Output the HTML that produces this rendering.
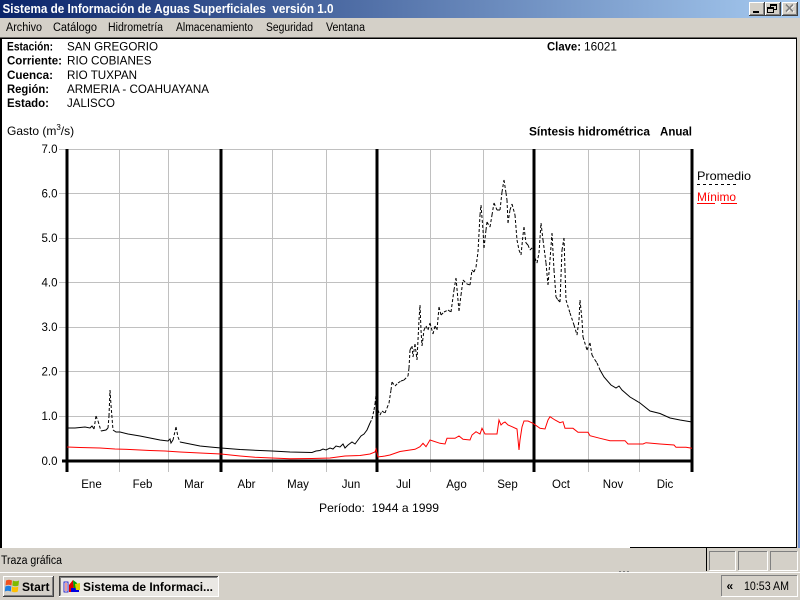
<!DOCTYPE html>
<html><head><meta charset="utf-8"><style>
html,body{margin:0;padding:0;background:#D4D0C8;width:800px;height:600px;overflow:hidden}
svg{display:block}
text{font-family:"Liberation Sans",Arial,sans-serif;white-space:pre}
</style></head><body>
<svg width="800" height="600" viewBox="0 0 800 600" xmlns="http://www.w3.org/2000/svg">
<defs><linearGradient id="tb" x1="0" x2="1" y1="0" y2="0"><stop offset="0" stop-color="#0A246A"/><stop offset="1" stop-color="#A6CAF0"/></linearGradient></defs>
<rect width="800" height="600" fill="#D4D0C8"/>
<!-- title bar -->
<rect x="0" y="0" width="800" height="18" fill="url(#tb)"/>
<text x="2.5" y="13" font-size="12.5" font-weight="bold" fill="#fff" textLength="331" lengthAdjust="spacingAndGlyphs">Sistema de Información de Aguas Superficiales  versión 1.0</text>
<!-- buttons -->
<g>
<rect x="749" y="2" width="16" height="14" fill="#D4D0C8"/>
<path d="M749.5 15.5V2.5H764.5" stroke="#fff" fill="none"/>
<path d="M749 15.5H764.5V2" stroke="#404040" fill="none"/>
<path d="M750 14.5H763.5V3" stroke="#808080" fill="none"/>
<rect x="753" y="11" width="6" height="2" fill="#000"/>
<rect x="765" y="2" width="16" height="14" fill="#D4D0C8"/>
<path d="M765.5 15.5V2.5H780.5" stroke="#fff" fill="none"/>
<path d="M765 15.5H780.5V2" stroke="#404040" fill="none"/>
<path d="M766 14.5H779.5V3" stroke="#808080" fill="none"/>
<rect x="770.5" y="4.5" width="6" height="5" fill="none" stroke="#000"/>
<rect x="770" y="4" width="7" height="2" fill="#000"/>
<rect x="767.5" y="7.5" width="6" height="5" fill="#D4D0C8" stroke="#000"/>
<rect x="767" y="7" width="7" height="2" fill="#000"/>
<rect x="782" y="2" width="16" height="14" fill="#D4D0C8"/>
<path d="M782.5 15.5V2.5H797.5" stroke="#fff" fill="none"/>
<path d="M782 15.5H797.5V2" stroke="#404040" fill="none"/>
<path d="M783 14.5H796.5V3" stroke="#808080" fill="none"/>
<path d="M787 5L794 12M794 5L787 12" stroke="#fff" stroke-width="1.6"/>
<path d="M786 4.5L793 11.5M793 4.5L786 11.5" stroke="#808080" stroke-width="1.6"/>
</g>
<!-- menu -->
<g font-size="11.5" fill="#000">
<text x="6" y="31" textLength="36" lengthAdjust="spacingAndGlyphs">Archivo</text>
<text x="53" y="31" textLength="44" lengthAdjust="spacingAndGlyphs">Catálogo</text>
<text x="108" y="31" textLength="55" lengthAdjust="spacingAndGlyphs">Hidrometría</text>
<text x="176" y="31" textLength="77" lengthAdjust="spacingAndGlyphs">Almacenamiento</text>
<text x="266" y="31" textLength="47" lengthAdjust="spacingAndGlyphs">Seguridad</text>
<text x="326" y="31" textLength="39" lengthAdjust="spacingAndGlyphs">Ventana</text>
</g>
<!-- client area -->
<rect x="0" y="38" width="797" height="510" fill="#fff"/>
<rect x="0" y="37.5" width="797" height="1.5" fill="#000"/>
<rect x="0" y="38" width="2" height="510" fill="#000"/>
<rect x="796" y="38" width="1" height="510" fill="#000"/>
<rect x="630" y="547" width="167" height="1" fill="#000"/>
<rect x="798" y="300" width="2" height="248" fill="#6F8FD0"/>
<!-- header -->
<g font-size="12" fill="#000">
<text x="7" y="50.5" font-weight="bold" textLength="46" lengthAdjust="spacingAndGlyphs">Estación:</text>
<text x="67" y="50.5" textLength="91" lengthAdjust="spacingAndGlyphs">SAN GREGORIO</text>
<text x="7" y="64.7" font-weight="bold" textLength="55" lengthAdjust="spacingAndGlyphs">Corriente:</text>
<text x="67" y="64.7" textLength="84.5" lengthAdjust="spacingAndGlyphs">RIO COBIANES</text>
<text x="7" y="78.8" font-weight="bold" textLength="46" lengthAdjust="spacingAndGlyphs">Cuenca:</text>
<text x="67" y="78.8" textLength="70" lengthAdjust="spacingAndGlyphs">RIO TUXPAN</text>
<text x="7" y="92.9" font-weight="bold" textLength="42" lengthAdjust="spacingAndGlyphs">Región:</text>
<text x="67" y="92.9" textLength="142" lengthAdjust="spacingAndGlyphs">ARMERIA - COAHUAYANA</text>
<text x="7" y="107" font-weight="bold" textLength="42" lengthAdjust="spacingAndGlyphs">Estado:</text>
<text x="67" y="107" textLength="48" lengthAdjust="spacingAndGlyphs">JALISCO</text>
<text x="547" y="50.5" font-weight="bold" textLength="34" lengthAdjust="spacingAndGlyphs">Clave:</text>
<text x="584" y="50.5" textLength="33" lengthAdjust="spacingAndGlyphs">16021</text>
<text x="7" y="135">Gasto (m<tspan dy="-5" font-size="8">3</tspan><tspan dy="5">/s)</tspan></text>
<text x="529" y="135.5" font-weight="bold" textLength="121" lengthAdjust="spacingAndGlyphs">Síntesis hidrométrica</text>
<text x="660" y="135.5" font-weight="bold" textLength="32" lengthAdjust="spacingAndGlyphs">Anual</text>
</g>
<!-- grid -->
<g stroke="#C0C0C0" stroke-width="1" fill="none">
<path d="M59 416.5H692M59 371.5H692M59 327.5H692M59 282.5H692M59 238.5H692M59 193.5H692M59 149.5H692"/>
<path d="M119.5 149V472M168.5 149V472M272.5 149V472M326.5 149V472M430.5 149V472M483.5 149V472M588.5 149V472M639.5 149V472"/>
</g>
<g stroke="#000" stroke-width="3" fill="none">
<path d="M67 149V472M221 149V472M377 149V472M534 149V472M692 149V472"/>
<path d="M62 461H693.5"/>
</g>
<!-- y labels -->
<g font-size="11.5" fill="#000" text-anchor="end">
<text x="57.5" y="153">7.0</text>
<text x="57.5" y="197.5">6.0</text>
<text x="57.5" y="242">5.0</text>
<text x="57.5" y="286.5">4.0</text>
<text x="57.5" y="331">3.0</text>
<text x="57.5" y="375.5">2.0</text>
<text x="57.5" y="420">1.0</text>
<text x="57.5" y="465">0.0</text>
</g>
<!-- month labels -->
<g font-size="11.5" fill="#000" text-anchor="middle">
<text x="91.5" y="488">Ene</text>
<text x="142.5" y="488">Feb</text>
<text x="194" y="488">Mar</text>
<text x="246.5" y="488">Abr</text>
<text x="298" y="488">May</text>
<text x="351" y="488">Jun</text>
<text x="403.5" y="488">Jul</text>
<text x="456.5" y="488">Ago</text>
<text x="507.5" y="488">Sep</text>
<text x="561" y="488">Oct</text>
<text x="613" y="488">Nov</text>
<text x="665" y="488">Dic</text>
</g>
<text x="319" y="512" font-size="12" textLength="120" lengthAdjust="spacingAndGlyphs">Período:  1944 a 1999</text>
<!-- minimo -->
<polyline fill="none" stroke="#FF0000" stroke-width="1" points="67,447 80,447.5 100,448 115,449 130,449.5 150,450.5 165,451 180,452 200,453 221,454 240,456 255,457.3 272,458 290,458.7 312,458.5 330,458 345,456 360,455.5 370,454 375,452 376,449 378,457 385,456 390,455 400,451.5 410,450 415,449.3 420,446.7 423,443.3 426,446.7 430,440 440,443.3 445,444 447,438.3 455,438.3 459,436 463,439.3 470,440 472,435 476,431.7 480,434 482,428.3 485,434 497,434 499,420 501,425 503,423 505,422 508,425 512,426.7 517,429 519,450 520,440 522,427 524,421 528,421 533,423.3 540,428.3 545,429 548,420 550,416.7 555,420 560,422.7 563,421.7 565,428.3 573,428.3 578,432.3 588,432.3 590,435.7 600,438.3 610,440.7 625,440.7 628,444 643,444 646,442.7 660,444 674,445 676,447.3 686,447.3 692,448.3"/>
<!-- promedio solid parts -->
<g fill="none" stroke="#000" stroke-width="1">
<polyline points="67,428 75,428 85,427 90,428 92,426 94,429"/>
<polyline points="101,431 106,430 108,428"/>
<polyline points="113,430 116,432 120,432 128,434 140,436 150,438 160,440 168,441 170,439 171,443 173,440"/>
<polyline points="180,442 190,444 200,446 210,447 221,448 240,449.5 260,450.5 272,451 290,452 312,452.5 316,451 320,450.5 323,449 326,450 330,448 333,449 336,446 340,447 343,444 345,448 348,445 352,442 355,444 358,440 361,436 364,434 367,430 370,423"/>
<polyline points="600,370 604,377 611,385 616,388 619,386 622,390 630,397 640,403 650,411 660,413.5 670,418 680,420 686,421 692,422"/>
<path stroke-dasharray="3,2" d="M94,429L96,416M96,416L98,421M98,421L101,431M108,428L109,416M109,416L110,390M110,390L111,405M111,405L113,430M173,440L176,427M176,427L178,437M178,437L180,442
M370,423L372,419M372,419L374,410M374,410L375,404M375,404L376,395M376,395L377,399M377,399L378,410M378,410L380,415M380,415L382,411M382,411L385,413M385,413L387,408M387,408L389,403M389,403L391,390M391,390L392,382M392,382L395,386M395,386L398,383M398,383L401,381M401,381L404,380M404,380L408,376M408,376L409,368M409,368L410,350M410,350L412,346M412,346L413,357M413,357L415,344M415,344L417,360M417,360L419,320M419,320L420,305M420,305L421,330M421,330L422,346M422,346L424,330M424,330L426,326M426,326L428,330M428,330L430,323M430,323L433,334M433,334L435,326M435,326L437,330M437,330L439,307M439,307L441,315M441,315L444,312M444,312L448,310M448,310L451,312M451,312L454,290M454,290L456,278M456,278L459,311M459,311L461,295M461,295L463,280M463,280L467,284M467,284L470,285M470,285L472,270M472,270L474,272M474,272L476,267M476,267L478,252M478,252L480,215M480,215L481,205M481,205L483,230M483,230L484,248M484,248L486,230M486,230L487,222M487,222L490,227M490,227L492,215M492,215L494,203M494,203L497,210M497,210L500,210M500,210L502,192M502,192L504,180M504,180L506,193M506,193L507,200M507,200L508,223M508,223L510,210M510,210L512,204M512,204L515,215M515,215L517,240M517,240L519,250M519,250L521,255M521,255L523,235M523,235L524,227M524,227L526,243M526,243L528,245M528,245L530,250M530,250L533,247M533,247L535,258M535,258L537,263M537,263L539,253M539,253L541,223M541,223L543,240M543,240L546,263M546,263L548,285M548,285L550,260M550,260L552,233M552,233L554,270M554,270L556,297M556,297L558,300M558,300L560,302M560,302L562,250M562,250L564,238M564,238L565,270M565,270L566,300M566,300L570,313M570,313L574,325M574,325L577,335M577,335L579,320M579,320L580,300M580,300L582,320M582,320L583,337M583,337L587,350M587,350L590,343M590,343L592,355M592,355L595,360M595,360L597,363M597,363L600,370"/>
</g>
<!-- legend -->
<text x="697" y="180" font-size="12" fill="#000" textLength="54" lengthAdjust="spacingAndGlyphs">Promedio</text>
<path d="M697 184.5H736" stroke="#000" stroke-dasharray="3,3"/>
<text x="697" y="201" font-size="12" fill="#FF0000" textLength="39" lengthAdjust="spacingAndGlyphs">Mínimo</text>
<path d="M697 203.5H715M721 203.5H737" stroke="#FF0000"/>
<!-- status bar -->
<text x="1" y="564" font-size="11.5" fill="#000" textLength="61" lengthAdjust="spacingAndGlyphs">Traza gráfica</text>
<rect x="706" y="548" width="1" height="23" fill="#000"/>
<g fill="none">
<path d="M709.5 570V551.5H735" stroke="#808080"/><path d="M709.5 570.5H735.5V551.5" stroke="#fff"/>
<path d="M738.5 570V551.5H767" stroke="#808080"/><path d="M738.5 570.5H767.5V551.5" stroke="#fff"/>
<path d="M770.5 570V551.5H797" stroke="#808080"/><path d="M770.5 570.5H797.5V551.5" stroke="#fff"/>
</g>
<path d="M619 571.5H621M623 571.5H625M627 571.5H629" stroke="#808080"/>
<!-- taskbar -->
<rect x="0" y="572" width="800" height="1" fill="#fff"/>
<rect x="0" y="573" width="800" height="27" fill="#D4D0C8"/>
<!-- start button -->
<rect x="3" y="576" width="50" height="21" fill="#D4D0C8"/>
<path d="M3.5 596.5V576.5H53" stroke="#fff" fill="none"/>
<path d="M3 596.5H53.5V576" stroke="#404040" fill="none"/>
<path d="M4 595.5H52.5V577" stroke="#808080" fill="none"/>
<g>
<path d="M6 580.5 Q9 579 12 580.5 L11.5 585.5 Q8.5 584 5.5 585.5Z" fill="#F0531F"/>
<path d="M12.8 580.5 Q16 582 19 580.5 L18.5 585.5 Q15.5 587 12.3 585.5Z" fill="#7FBA00"/>
<path d="M5.3 586.5 Q8.5 585 11.3 586.5 L10.8 591.5 Q7.8 590 4.8 591.5Z" fill="#1E7FE0"/>
<path d="M12.1 586.5 Q15.3 588 18.3 586.5 L17.8 591.5 Q14.8 593 11.6 591.5Z" fill="#FFC000"/>
</g>
<text x="22" y="591" font-size="12" font-weight="bold" fill="#000" textLength="27.5" lengthAdjust="spacingAndGlyphs">Start</text>
<!-- task button -->
<rect x="59" y="576" width="159" height="21" fill="#EAE8E4"/>
<path d="M59.5 596.5V576.5H218" stroke="#404040" fill="none"/>
<path d="M60.5 595.5V577.5H217" stroke="#808080" fill="none"/>
<path d="M59 596.5H218.5V576" stroke="#fff" fill="none"/>
<g>
<rect x="64" y="582" width="4" height="10" fill="#fff" stroke="#0000C0" stroke-width="0.8"/>
<path d="M65 584H67M65 586H67M65 588H67M65 590H67" stroke="#C00000" stroke-width="0.8"/>
<path d="M69 585 L73 580 L74 592 L69 592Z" fill="#E00000"/>
<path d="M73 580 L77 583 L78 592 L74 592Z" fill="#00A000"/>
<path d="M71 588 H79 V592 H71Z" fill="#0000E0"/>
<path d="M75 584 L80 583 L80 590 L76 590Z" fill="#E0D000"/>
</g>
<text x="83" y="591" font-size="12" font-weight="bold" fill="#000" textLength="130" lengthAdjust="spacingAndGlyphs">Sistema de Informaci...</text>
<!-- tray -->
<path d="M721.5 596V575.5H797" stroke="#808080" fill="none"/>
<path d="M721.5 596.5H797.5V575.5" stroke="#fff" fill="none"/>
<text x="726.5" y="590" font-size="12" font-weight="bold" fill="#000">«</text>
<text x="744" y="590" font-size="11.5" fill="#000" textLength="45" lengthAdjust="spacingAndGlyphs">10:53 AM</text>
</svg>
</body></html>
